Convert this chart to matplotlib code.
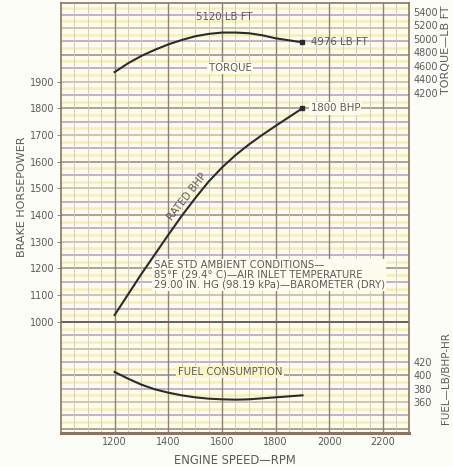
import numpy as np
import matplotlib.pyplot as plt

plt.rcParams['font.family'] = ['DejaVu Sans']

# values
rpm = [1200, 1250, 1300, 1350, 1400, 1450, 1500, 1550, 1600,
       1650, 1700, 1750, 1800, 1850, 1900]
bhp = [1026, 1103, 1180, 1253, 1326, 1397, 1463, 1525, 1578,
       1624, 1664, 1700, 1734, 1767, 1800]
torque = [4510, 4640, 4750, 4840, 4920, 4985, 5040, 5075, 5095,
          5095, 5085, 5055, 5010, 4980, 4950]
fuel = [405, 395, 386, 379, 374, 370, 367, 365, 364,
        363.5, 364, 365.5, 367, 368.5, 370]

rpm_ticks = [1200, 1400, 1600, 1800, 2000, 2200]
bhp_ticks = [1000, 1100, 1200, 1300, 1400, 1500, 1600, 1700, 1800, 1900]
torque_ticks = [4200, 4400, 4600, 4800, 5000, 5200, 5400]
fuel_ticks = [360, 380, 400, 420]

txt = '#5a5a5a'
curve = '#2b2b2b'
fs = 7

fig = plt.figure(figsize=(4.53, 4.67), dpi=100, facecolor='#fdfdf8')
ax = fig.add_axes([61 / 453, 34 / 467, 348 / 453, 430 / 467])
ax.set_facecolor('#fdfcef')
ax.set_xlim(1000, 2297)
ax.set_ylim(584, 2194)

# grid paper: pale yellow bands, coloured horizontal lines, vertical rules
for b in np.arange(575, 2200, 50):
    ax.axhline(b, color='#f1ea9c', lw=1.8, alpha=0.7, zorder=0)
for b in np.arange(600, 2200, 50):
    if b % 100 == 0:
        c = '#9a887c' if b % 200 == 0 else '#c7b49a'
    else:
        c = '#b49cbc' if b % 200 in (50, 150) and b % 300 else '#c9ab9a'
    ax.axhline(b, color=c, lw=1.1, zorder=1)
for r in np.arange(1050, 2300, 50):
    major = r % 200 == 0
    ax.axvline(r, color='#8e8178' if major else '#cfc5ba',
               lw=1.0 if major else 0.6, zorder=1)
ax.axhline(1000, color='#6e6258', lw=1.4, zorder=1)

for s in ax.spines.values():
    s.set_color('#8b7560')
    s.set_linewidth(1.2)
ax.spines['bottom'].set_linewidth(2.2)

ax.set_xticks(rpm_ticks)
ax.set_xticklabels([str(v) for v in rpm_ticks], fontsize=fs, color=txt)
ax.set_yticks(bhp_ticks)
ax.set_yticklabels([str(v) for v in bhp_ticks], fontsize=fs, color=txt)
ax.tick_params(axis='x', length=0, pad=3)
ax.tick_params(axis='y', length=3, width=0.6, color='#777777', pad=1.5)
ax.set_xlabel('ENGINE SPEED\u2014RPM', fontsize=8.3, color=txt, labelpad=5)

# torque scale (right, upper)
ax_t = ax.twinx()
ax_t.set_ylim(-837, 5533)
ax_t.set_yticks(torque_ticks)
ax_t.set_yticklabels([str(v) for v in torque_ticks], fontsize=fs, color=txt)
ax_t.tick_params(axis='y', length=0, pad=3)
for s in ax_t.spines.values():
    s.set_visible(False)

# fuel scale (right, lower)
ax_f = ax.twinx()
ax_f.set_ylim(313.5, 958.5)
ax_f.set_yticks(fuel_ticks)
ax_f.set_yticklabels([str(v) for v in fuel_ticks], fontsize=fs, color=txt)
ax_f.tick_params(axis='y', length=0, pad=3)
for s in ax_f.spines.values():
    s.set_visible(False)

# curves
ax.plot(rpm, bhp, color=curve, lw=1.5, zorder=5)
ax.plot(rpm[-1], bhp[-1], marker='s', ms=3, color=curve, zorder=6)
ax_t.plot(rpm, torque, color=curve, lw=1.5, zorder=5)
ax_t.plot(rpm[-1], torque[-1], marker='s', ms=3, color=curve, zorder=6)
ax_f.plot(rpm, fuel, color=curve, lw=1.5, zorder=5)

# annotations
ax_t.text(1610, 5330, '5120 LB FT', fontsize=7.3, color=txt, ha='center', va='center')
ax_t.text(1930, torque[-1] + 10, '4976 LB FT', fontsize=7.3, color=txt, ha='left', va='center')
ax_t.text(1630, 4570, 'TORQUE', fontsize=7.3, color=txt, ha='center', va='center',
          bbox=dict(facecolor='#fdfcef', edgecolor='none', pad=1))
ax.text(1930, bhp[-1], '1800 BHP', fontsize=7.3, color=txt, ha='left', va='center',
        bbox=dict(facecolor='#fdfcef', edgecolor='none', pad=1))
ax.text(1470, 1470, 'RATED BHP', fontsize=7.3, color=txt, ha='center', va='center',
        rotation=52)
ax.text(1345, 1232, 'SAE STD AMBIENT CONDITIONS\u2014\n'
        '85\u00b0F (29.4\u00b0 C)\u2014AIR INLET TEMPERATURE\n'
        '29.00 IN. HG (98.19 kPa)\u2014BAROMETER (DRY)',
        fontsize=7.3, color=txt, ha='left', va='top', linespacing=1.0,
        bbox=dict(facecolor='#fdfcef', edgecolor='none', pad=1))
ax_f.text(1630, 405, 'FUEL CONSUMPTION', fontsize=7.3, color=txt, ha='center', va='center',
          bbox=dict(facecolor='#fbf6c8', edgecolor='none', pad=1))

fig.text(22 / 453, 1 - 197 / 467, 'BRAKE HORSEPOWER', fontsize=8, color=txt,
         rotation=90, ha='center', va='center')
fig.text(446 / 453, 1 - 50 / 467, 'TORQUE\u2014LB FT', fontsize=8, color=txt,
         rotation=90, ha='center', va='center')
fig.text(446 / 453, 1 - 378 / 467, 'FUEL\u2014LB/BHP-HR', fontsize=7.5, color=txt,
         rotation=90, ha='center', va='center')

fig.savefig('out.png', dpi=100, facecolor=fig.get_facecolor())
